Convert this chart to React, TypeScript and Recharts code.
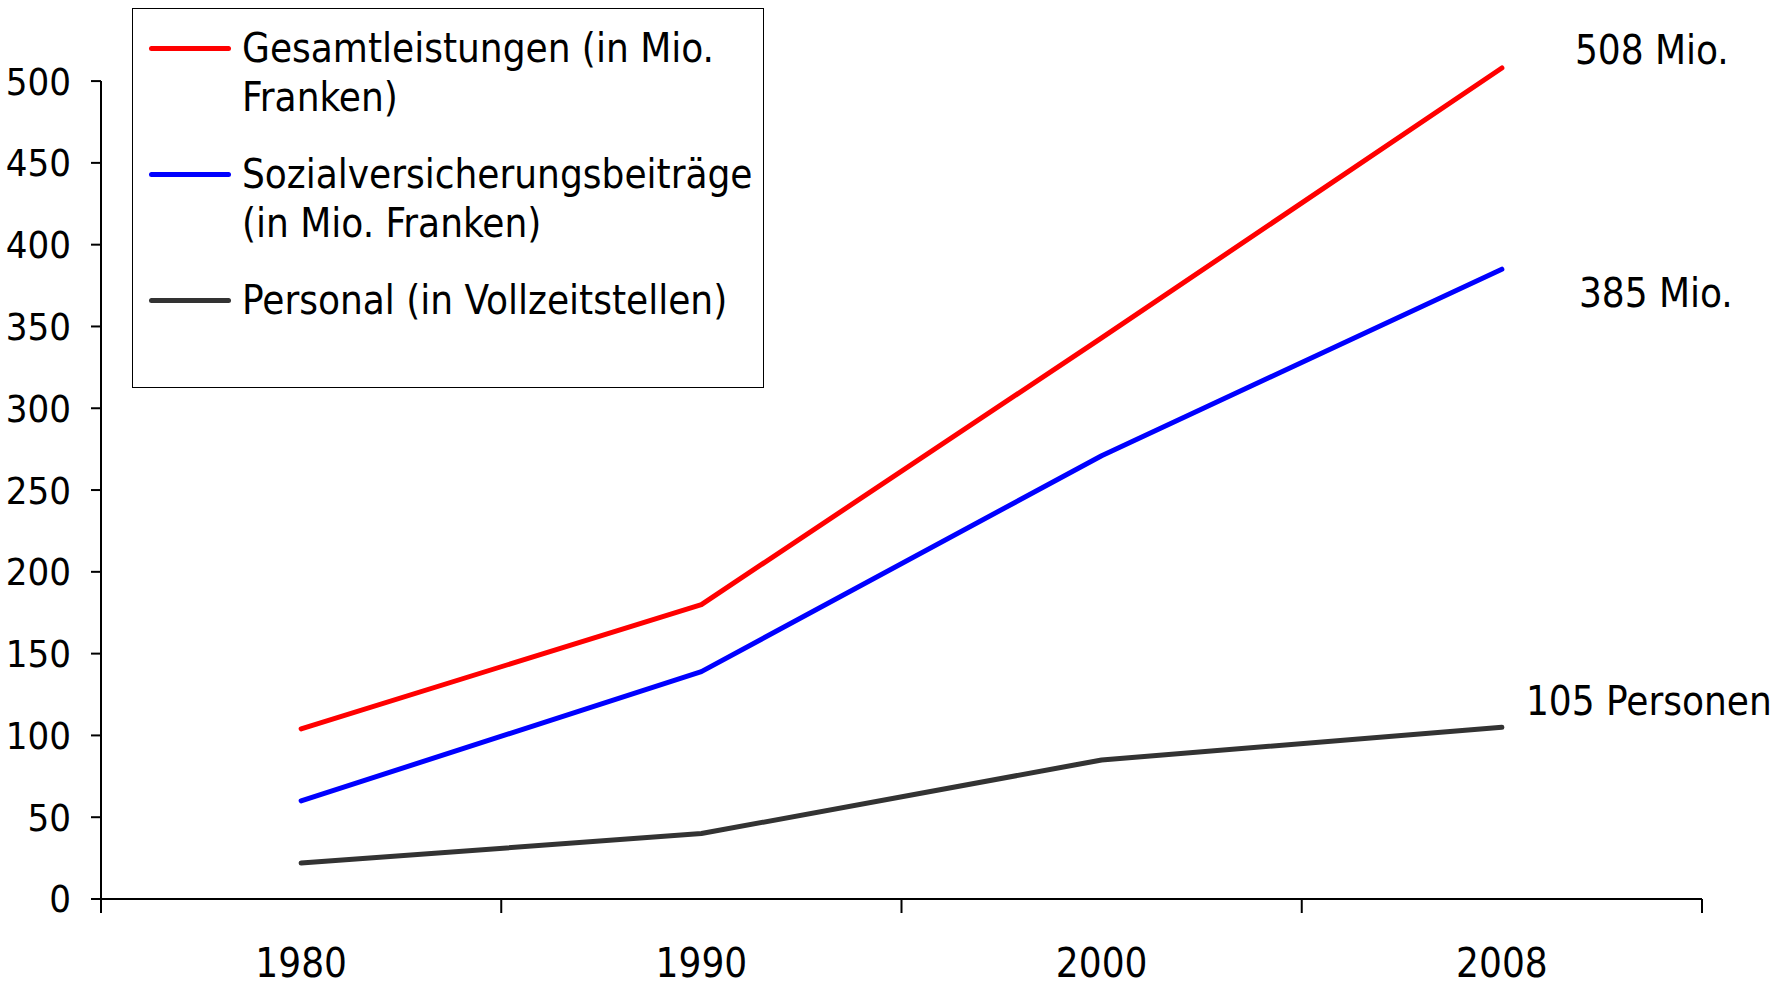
import {
  ComposedChart,
  Line,
  XAxis,
  YAxis,
  Legend,
  LabelList,
  ReferenceLine,
} from "recharts";

const YEARS = ["1980", "1990", "2000", "2008"];
const GESAMTLEISTUNGEN = [104, 180, 343, 508];
const SOZIALVERSICHERUNG = [60, 139, 271, 385];
const PERSONAL = [22, 40, 85, 105];
const Y_TICKS = [0, 50, 100, 150, 200, 250, 300, 350, 400, 450, 500];

const SERIES = [
  {
    key: "gesamt",
    name: "Gesamtleistungen (in Mio.\nFranken)",
    color: "#ff0000",
    endLabel: "508 Mio.",
    dx: 73,
    dy: -18,
  },
  {
    key: "sozial",
    name: "Sozialversicherungsbeiträge\n(in Mio. Franken)",
    color: "#0000ff",
    endLabel: "385 Mio.",
    dx: 77,
    dy: 24,
  },
  {
    key: "personal",
    name: "Personal (in Vollzeitstellen)",
    color: "#333333",
    endLabel: "105 Personen",
    dx: 24,
    dy: -26,
  },
];

const data = YEARS.map((year, i) => ({
  year,
  gesamt: GESAMTLEISTUNGEN[i],
  sozial: SOZIALVERSICHERUNG[i],
  personal: PERSONAL[i],
}));

const FONT = '"Liberation Sans Narrow", "DejaVu Sans Condensed", "Arial Narrow", sans-serif';

function ChartLegend() {
  return (
    <div
      style={{
        boxSizing: "border-box",
        width: 632,
        height: 380,
        border: "1.5px solid #000",
        background: "#fff",
        paddingTop: 15,
        fontFamily: FONT,
        fontSize: 40,
        lineHeight: "49px",
        color: "#000",
      }}
    >
      {SERIES.map((s) => (
        <div
          key={s.key}
          style={{ display: "flex", alignItems: "flex-start", marginBottom: 28 }}
        >
          <span
            style={{
              display: "inline-block",
              width: 82,
              height: 5,
              borderRadius: 3,
              background: s.color,
              marginLeft: 16,
              marginRight: 11,
              marginTop: 22,
              flexShrink: 0,
            }}
          />
          <span style={{ whiteSpace: "pre-line" }}>{s.name}</span>
        </div>
      ))}
    </div>
  );
}

// year label in the band centre, tick marks on the band edges
function YearTick(props: any) {
  const { x, y, payload, index } = props;
  const half = payload.offset || 0;
  const axisY = y - 47;
  return (
    <g>
      <line x1={x - half} x2={x - half} y1={axisY} y2={axisY + 14} stroke="#000" strokeWidth={2} />
      {index === YEARS.length - 1 && (
        <line x1={x + half} x2={x + half} y1={axisY} y2={axisY + 14} stroke="#000" strokeWidth={2} />
      )}
      <text x={x} y={y + 17} textAnchor="middle" dominantBaseline="central" fontFamily={FONT} fontSize={40} fill="#000">
        {payload.value}
      </text>
    </g>
  );
}

function endLabel(text: string, dx: number, dy: number) {
  return (props: any) => {
    if (props.index !== YEARS.length - 1) return null;
    return (
      <text
        x={Number(props.x) + dx}
        y={Number(props.y) + dy}
        dominantBaseline="central"
        fontFamily={FONT}
        fontSize={40}
        fill="#000"
      >
        {text}
      </text>
    );
  };
}

export default function App() {
  return (
    <div style={{ position: "absolute", left: 0, top: 0, background: "#fff" }}>
      <ComposedChart
        width={1788}
        height={986}
        data={data}
        margin={{ top: 68, right: 86, bottom: 0, left: 0 }}
      >
        <XAxis
          dataKey="year"
          scale="band"
          height={87}
          tickLine={false}
          tickMargin={47}
          tickSize={0}
          axisLine={{ stroke: "#000", strokeWidth: 2 }}
          tick={<YearTick />}
        />
        <YAxis
          width={101}
          domain={[0, 508]}
          ticks={Y_TICKS}
          interval={0}
          axisLine={false}
          tickSize={10}
          tickMargin={20}
          tickLine={{ stroke: "#000", strokeWidth: 2 }}
          tick={{ fontFamily: FONT, fontSize: 38, fill: "#000" }}
        />
        <ReferenceLine
          segment={[
            { x: "1980", y: 0 },
            { x: "1980", y: 500 },
          ]}
          position="start"
          stroke="#000"
          strokeWidth={2}
        />
        <Legend
          layout="vertical"
          align="center"
          verticalAlign="middle"
          content={() => <ChartLegend />}
          wrapperStyle={{ left: 132, top: 8, width: 632, height: 380 }}
        />
        {SERIES.map((s) => (
          <Line
            key={s.key}
            dataKey={s.key}
            name={s.name}
            stroke={s.color}
            strokeWidth={5}
            strokeLinejoin="round"
            strokeLinecap="round"
            dot={false}
            activeDot={false}
            isAnimationActive={false}
          >
            <LabelList dataKey={s.key} content={endLabel(s.endLabel, s.dx, s.dy)} />
          </Line>
        ))}
      </ComposedChart>
    </div>
  );
}
